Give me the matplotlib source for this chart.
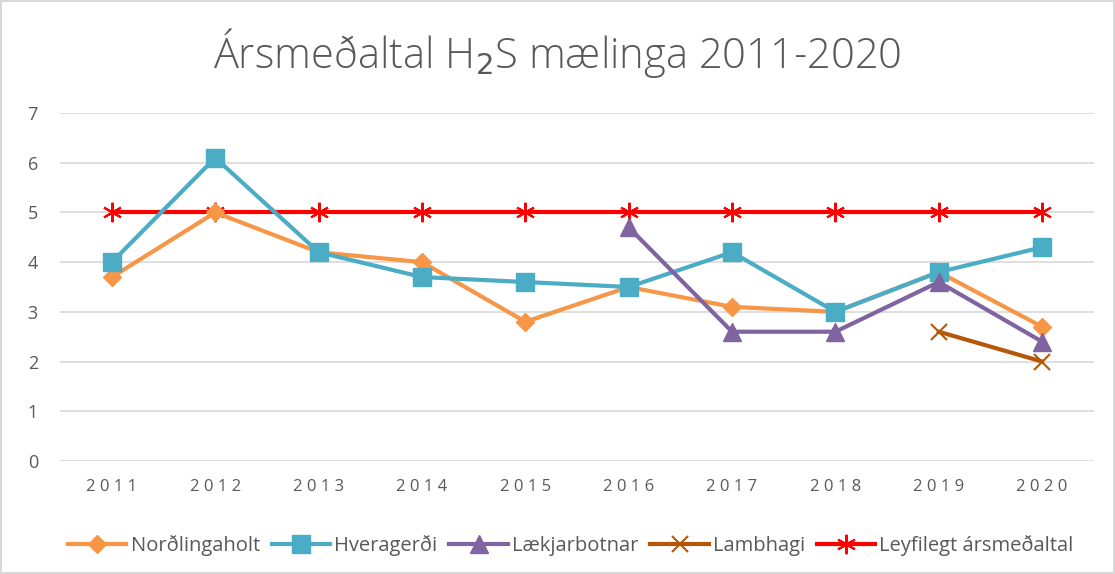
import matplotlib.pyplot as plt
import numpy as np

years = ['2011', '2012', '2013', '2014', '2015', '2016', '2017', '2018', '2019', '2020']
nordlingaholt = [3.7, 5.0, 4.2, 4.0, 2.8, 3.5, 3.1, 3.0, 3.8, 2.7]
hveragerdi = [4.0, 6.1, 4.2, 3.7, 3.6, 3.5, 4.2, 3.0, 3.8, 4.3]
laekjarbotnar = [np.nan] * 5 + [4.7, 2.6, 2.6, 3.6, 2.4]
lambhagi = [np.nan] * 8 + [2.6, 2.0]
leyfilegt = [5] * 10

plt.rcParams['font.family'] = ['Open Sans', 'DejaVu Sans']
grey = '#595959'

fig = plt.figure(figsize=(11.15, 5.74), dpi=100)
fig.patch.set_edgecolor('#D9D9D9')
fig.patch.set_linewidth(1.5)
ax = fig.add_axes([0.054, 0.197, 0.927, 0.606])

x = np.arange(len(years))
ax.plot(x, nordlingaholt, color='#F79646', lw=3, marker='D', ms=9, label='Norðlingaholt', zorder=3)
ax.plot(x, hveragerdi, color='#4BACC6', lw=3, marker='s', ms=13, label='Hveragerði', zorder=4)
ax.plot(x, laekjarbotnar, color='#8064A2', lw=3, marker='^', ms=13, label='Lækjarbotnar', zorder=5)
ax.plot(x, lambhagi, color='#B65708', lw=3, marker='x', ms=12, mew=1.5, label='Lambhagi', zorder=5)
ax.plot(x, leyfilegt, color='#FF0000', lw=3, marker=(6, 2, 0), ms=14, mew=1.5, label='Leyfilegt ársmeðaltal', zorder=2)

ax.set_xlim(-0.5, len(years) - 0.5)
ax.set_ylim(0, 7)
ax.set_yticks(range(8))
ax.set_xticks(x)
ax.set_xticklabels([' '.join(y) for y in years])
ax.tick_params(length=0, colors=grey, labelsize=13)
ax.tick_params(axis='x', pad=13, labelsize=12)
ax.tick_params(axis='y', pad=16)
ax.grid(axis='y', color='#D9D9D9', lw=1.2)
ax.set_axisbelow(True)
for s in ax.spines.values():
    s.set_visible(False)

fig.suptitle('Ársmeðaltal H$_2$S mælinga 2011-2020', y=0.955, fontsize=30,
             color=grey, fontweight='light')
fig.legend(loc='lower center', bbox_to_anchor=(0.512, 0.0), ncol=5, frameon=False,
           fontsize=14.5, labelcolor=grey, handlelength=2.9, handletextpad=0.2,
           columnspacing=0.6)

fig.savefig('out.png', dpi=100)
